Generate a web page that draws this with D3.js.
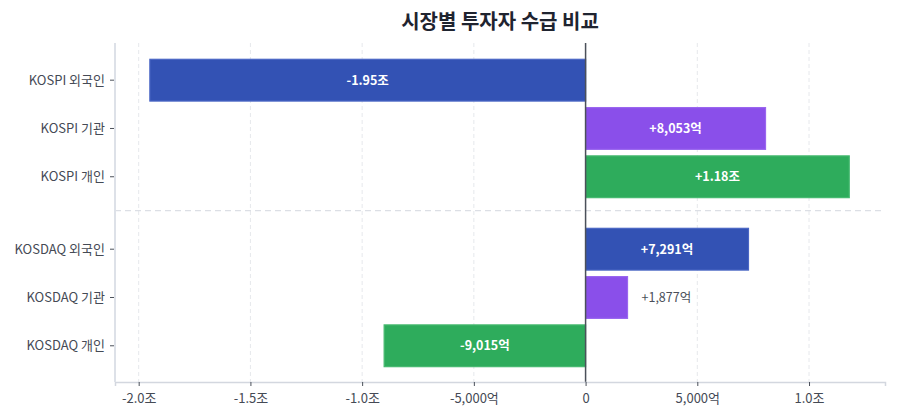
<!DOCTYPE html>
<html>
<head>
<meta charset="utf-8">
<script src="https://cdn.jsdelivr.net/npm/d3@7"></script>
<style>
  body { margin: 0; background: #fff; }
  svg { font-family: "Noto Sans CJK KR", "Noto Sans", sans-serif; }
</style>
</head>
<body>
<div id="chart-area"></div>
<script>
// values in 억원
var markets = ['KOSPI', 'KOSPI', 'KOSPI', 'KOSDAQ', 'KOSDAQ', 'KOSDAQ'];
var investors = ['외국인', '기관', '개인', '외국인', '기관', '개인'];
var netBuy = [-19500, 8053, 11800, 7291, 1877, -9015];
var tickValues = [-20000, -15000, -10000, -5000, 0, 5000, 10000];
var tickLabels = ['-2.0조', '-1.5조', '-1.0조', '-5,000억', '0', '5,000억', '1.0조'];

var colors = { '외국인': '#3352b4', '기관': '#8a4fea', '개인': '#2eac5c' };
var strokes = { '외국인': '#4a66c4', '기관': '#9a66ef', '개인': '#45b96f' };

var W = 900, H = 420;
var margin = { left: 115, right: 15, top: 43, bottom: 38 };
var width = W - margin.left - margin.right;
var height = H - margin.top - margin.bottom;

var data = netBuy.map(function(v, i) {
  return { market: markets[i], investor: investors[i], value: v,
           label: markets[i] + ' ' + investors[i],
           pos: i < 3 ? i : i + 0.5 };
});

var svg = d3.select('#chart-area')
  .append('svg')
    .attr('width', W)
    .attr('height', H);

// Title
svg.append('text')
  .attr('x', margin.left + width / 2)
  .attr('y', 29)
  .attr('text-anchor', 'middle')
  .attr('font-size', '20px')
  .attr('font-weight', 'bold')
  .attr('fill', '#1f2430')
  .text('시장별 투자자 수급 비교');

var area = svg.append('g')
  .attr('transform', 'translate(' + margin.left + ', ' + margin.top + ')');

// X Scale
var x = d3.scaleLinear()
  .domain([-21060, 13400])
  .range([0, width]);

// Y Scale (row index with a gap between markets)
var y = d3.scaleLinear()
  .domain([-0.77, 6.25])
  .range([0, height]);

var step = y(1) - y(0);
var barH = step * 0.865;

// grid
area.selectAll('.grid')
  .data(tickValues)
  .enter().append('line')
    .attr('class', 'grid')
    .attr('x1', function(d) { return x(d); })
    .attr('x2', function(d) { return x(d); })
    .attr('y1', 0)
    .attr('y2', height)
    .attr('stroke', '#e6e8ec')
    .attr('stroke-width', 1)
    .attr('stroke-dasharray', '4,3');

// market separator
area.append('line')
  .attr('x1', 0)
  .attr('x2', width)
  .attr('y1', y(2.7))
  .attr('y2', y(2.7))
  .attr('stroke', '#dcdfe5')
  .attr('stroke-width', 1.2)
  .attr('stroke-dasharray', '6,4');

// bars
area.selectAll('rect.bar')
  .data(data)
  .enter().append('rect')
    .attr('class', 'bar')
    .attr('x', function(d) { return x(Math.min(0, d.value)); })
    .attr('y', function(d) { return y(d.pos) - barH / 2; })
    .attr('width', function(d) { return Math.abs(x(d.value) - x(0)); })
    .attr('height', barH)
    .attr('fill', function(d) { return colors[d.investor]; })
    .attr('stroke', function(d) { return strokes[d.investor]; })
    .attr('stroke-width', 1.2);

function fmt(v) {
  var s = v > 0 ? '+' : '-';
  var a = Math.abs(v);
  if (a >= 10000) return s + (a / 10000).toFixed(2) + '조';
  return s + d3.format(',')(a) + '억';
}

// value labels
area.selectAll('text.val')
  .data(data)
  .enter().append('text')
    .attr('class', 'val')
    .attr('x', function(d) {
      var w = Math.abs(x(d.value) - x(0));
      if (w > 80) return (x(d.value) + x(0)) / 2;
      return d.value > 0 ? x(d.value) + 14 : x(d.value) - 14;
    })
    .attr('y', function(d) { return y(d.pos); })
    .attr('dy', '0.35em')
    .attr('text-anchor', function(d) {
      var w = Math.abs(x(d.value) - x(0));
      if (w > 80) return 'middle';
      return d.value > 0 ? 'start' : 'end';
    })
    .attr('font-size', '12.5px')
    .attr('font-weight', function(d) { return Math.abs(x(d.value) - x(0)) > 80 ? 'bold' : 'normal'; })
    .attr('fill', function(d) { return Math.abs(x(d.value) - x(0)) > 80 ? '#ffffff' : '#4a4f5a'; })
    .text(function(d) { return fmt(d.value); });

// zero line
area.append('line')
  .attr('x1', x(0))
  .attr('x2', x(0))
  .attr('y1', 0)
  .attr('y2', height)
  .attr('stroke', '#4b505a')
  .attr('stroke-width', 1.5);

// X Axis
var xAxisCall = d3.axisBottom(x)
  .tickValues(tickValues)
  .tickSize(4)
  .tickFormat(function(d, i) { return tickLabels[i]; });
var xAxisGroup = area.append('g')
  .attr('class', 'x-axis')
  .attr('transform', 'translate(0, ' + height + ')')
  .call(xAxisCall);
xAxisGroup.select('.domain').attr('stroke', '#d3d7df').attr('stroke-width', 1.5);
xAxisGroup.selectAll('.tick line').attr('stroke', '#4b505a');
xAxisGroup.selectAll('.tick text')
  .attr('fill', '#454a55')
  .attr('font-size', '13px')
  .attr('font-family', '"Noto Sans CJK KR", sans-serif')
  .attr('dy', '1.1em');

// Y axis line
area.append('line')
  .attr('x1', 0).attr('x2', 0)
  .attr('y1', 0).attr('y2', height)
  .attr('stroke', '#dde1e8')
  .attr('stroke-width', 2);

// Y labels and ticks
area.selectAll('line.ytick')
  .data(data)
  .enter().append('line')
    .attr('class', 'ytick')
    .attr('x1', -5).attr('x2', -1)
    .attr('y1', function(d) { return y(d.pos); })
    .attr('y2', function(d) { return y(d.pos); })
    .attr('stroke', '#4b505a');

area.selectAll('text.ylab')
  .data(data)
  .enter().append('text')
    .attr('class', 'ylab')
    .attr('x', -10)
    .attr('y', function(d) { return y(d.pos); })
    .attr('dy', '0.35em')
    .attr('text-anchor', 'end')
    .attr('font-size', '13px')
    .attr('fill', '#454a55')
    .text(function(d) { return d.label; });
</script>
</body>
</html>
